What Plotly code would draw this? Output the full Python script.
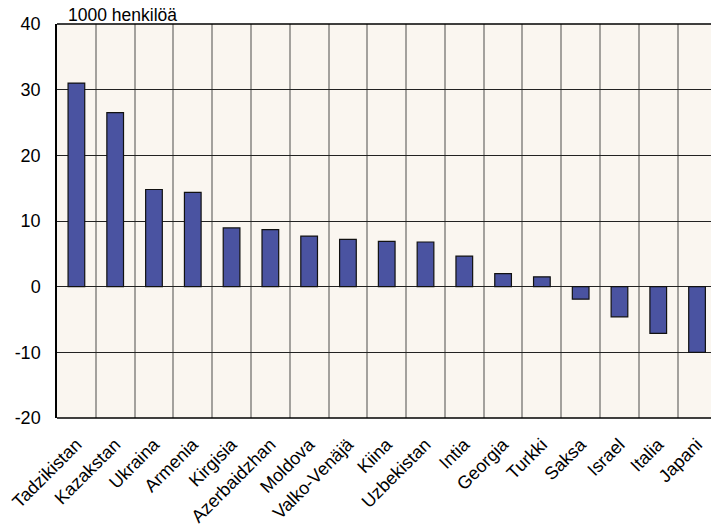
import plotly.graph_objects as go

categories = ["Tadzikistan", "Kazakstan", "Ukraina", "Armenia", "Kirgisia", "Azerbaidzhan",
              "Moldova", "Valko-Venäjä", "Kiina", "Uzbekistan", "Intia", "Georgia",
              "Turkki", "Saksa", "Israel", "Italia", "Japani"]
values = [31.0, 26.5, 14.8, 14.35, 8.95, 8.7, 7.7, 7.2, 6.9, 6.8, 4.65, 2.0, 1.5,
          -1.9, -4.6, -7.1, -10.0]
y_ticks = [-20, -10, 0, 10, 20, 30, 40]
y_labels = ["-20", "-10", "0", "10", "20", "30", "40"]
unit_label = "1000 henkilöä"

xs = list(range(len(categories)))
fig = go.Figure(go.Bar(
    x=xs, y=values, width=0.43,
    marker=dict(color="#4a53a1", line=dict(color="#111111", width=1.2)),
))

font = "Liberation Sans, Arial, sans-serif"
fig.update_layout(
    width=711, height=526,
    margin=dict(l=57, r=0, t=24, b=108),
    paper_bgcolor="white", plot_bgcolor="#faf6f0",
    showlegend=False,
    font=dict(family=font, color="black"),
    xaxis=dict(
        range=[-0.5, 16.36], tickvals=xs, ticktext=categories, tickangle=-45,
        tickfont=dict(size=18), showgrid=False, zeroline=False,
        ticks="outside", ticklen=8, tickcolor="rgba(0,0,0,0)", showline=False,
        minor=dict(tickvals=[i - 0.5 for i in range(len(categories) + 1)],
                   showgrid=True, gridcolor="#a3a19d", gridwidth=1.5, ticks=""),
    ),
    yaxis=dict(
        range=[-20, 40], tickvals=y_ticks, ticktext=y_labels,
        tickfont=dict(size=18), showgrid=True, gridcolor="#222222", gridwidth=1.2,
        zeroline=False, ticks="outside", ticklen=11, tickcolor="rgba(0,0,0,0)",
        showline=True, linecolor="black", linewidth=1.5, mirror=False,
    ),
    annotations=[dict(text=unit_label, xref="paper", yref="paper",
                      x=(66 - 57) / 654, y=1, xanchor="left", yanchor="bottom",
                      showarrow=False, font=dict(size=17.5, family=font), yshift=-3)],
    shapes=[
        dict(type="line", xref="paper", yref="paper", x0=0, x1=1, y0=1, y1=1,
             line=dict(color="black", width=1.5)),
        dict(type="line", xref="paper", yref="paper", x0=0, x1=1, y0=0, y1=0,
             line=dict(color="black", width=1.5)),
    ],
)
fig.write_html("out.html")
